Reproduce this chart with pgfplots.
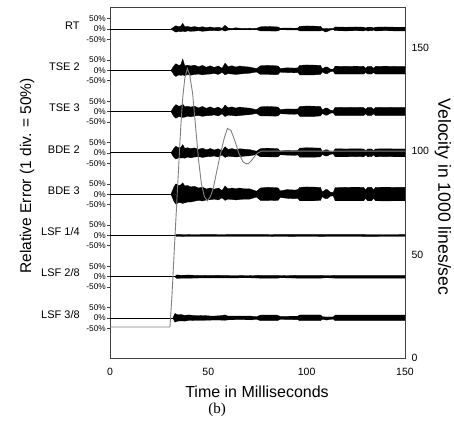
\documentclass[border=0pt]{standalone}
\usepackage{pgfplots}
\pgfplotsset{compat=1.18}
\usepackage{pgfplotstable}
\usepgfplotslibrary{fillbetween}
\usepackage{fontspec}
\setmainfont{Liberation Sans}
\newfontfamily\seriffont{Liberation Serif}

% envelopes of the error traces (relative error in %, t in ms)
\pgfplotstableread{
t u l
31 0 0
32.5 10 -10
33.5 16 -15
35 11 -11
36 14 -13
37 28 -10
38 11 -13
39.5 13 -9
41 9 -11
43 12 -10
45 8 -8
47 11 -11
49 7 -9
51 10 -8
53 6 -7
55 9 -9
57 4 -4
58.5 18 -10
60 5 -5
62 3 -3
64 6 -2
66 4 -3
68 3 -3
71 4 -4
74.5 3 -3
76.5 11 -9
80 12 -9
84 11 -10
85.5 10 -9
86.5 4 -3
90 5 -4
94 4 -4
95.5 5 -4
96.5 13 -9
100 15 -9
104 14 -9
107 13 -9
108 3 -6
109.5 2 -14
110.5 2 -12
112 3 -5
113.5 3 -3
114.5 10 -8
120 9 -9
125 10 -8
129 9 -9
130 5 -5
131 9 -9
133 9 -8
134 5 -5
135 9 -9
140 10 -8
145 9 -9
150 9 -9
}\RT
\pgfplotstableread{
t u l
31 0 0
32.5 22 -22
33.5 32 -30
35 24 -22
36 27 -25
37 55 -22
38 22 -26
39.5 25 -20
41 21 -24
43 25 -20
45 17 -18
47 24 -22
49 15 -19
51 22 -18
53 14 -15
55 21 -20
57 10 -10
58.5 35 -22
60 18 -16
62 22 -18
64 16 -20
66 21 -18
68 18 -16
71 16 -14
74.5 8 -8
76.5 22 -20
80 24 -20
84 22 -21
85.5 21 -20
86.5 9 -9
90 12 -11
94 11 -12
95.5 12 -10
96.5 24 -22
100 26 -22
104 25 -22
107 24 -20
108 7 -8
109.5 16 -16
110.5 16 -16
112 6 -7
113.5 5 -5
114.5 20 -18
120 19 -18
125 20 -18
129 19 -18
130 10 -10
131 19 -18
133 19 -18
134 10 -10
135 19 -18
140 20 -18
145 19 -18
150 19 -18
}\TSEtwo
\pgfplotstableread{
t u l
31 0 0
32.5 24 -24
33.5 34 -32
35 26 -24
36 28 -26
37 36 -28
38 24 -27
39.5 26 -22
41 22 -25
43 26 -21
45 18 -19
47 25 -23
49 16 -20
51 23 -19
53 15 -16
55 22 -21
57 11 -11
58.5 32 -24
60 19 -17
62 23 -19
64 17 -21
66 22 -19
68 19 -17
71 17 -15
74.5 9 -9
76.5 23 -21
80 25 -21
84 23 -22
85.5 22 -21
86.5 10 -10
90 13 -12
94 12 -13
95.5 13 -11
96.5 25 -23
100 27 -23
104 26 -23
107 25 -21
108 8 -9
109.5 17 -17
110.5 17 -17
112 7 -8
113.5 6 -6
114.5 21 -19
120 20 -19
125 21 -19
129 20 -19
130 11 -11
131 20 -19
133 20 -19
134 11 -11
135 20 -19
140 21 -19
145 20 -19
150 20 -19
}\TSEthree
\pgfplotstableread{
t u l
31 0 0
32.5 22 -22
33.5 32 -30
35 24 -23
36 27 -25
37 40 -24
38 22 -26
39.5 25 -20
41 21 -24
43 24 -20
45 17 -18
47 23 -22
49 15 -19
51 21 -18
53 14 -15
55 20 -20
57 10 -10
58.5 30 -22
60 17 -16
62 21 -18
64 16 -20
66 20 -18
68 18 -16
71 16 -14
74.5 8 -8
76.5 21 -19
80 23 -19
84 21 -20
85.5 20 -19
86.5 9 -9
90 12 -11
94 11 -12
95.5 12 -10
96.5 23 -21
100 25 -21
104 24 -21
107 23 -19
108 7 -8
109.5 15 -15
110.5 15 -15
112 6 -7
113.5 5 -5
114.5 20 -19
120 19 -19
125 20 -18
129 19 -19
130 10 -10
131 19 -19
133 19 -18
134 10 -10
135 19 -19
140 20 -18
145 19 -19
150 19 -19
}\BDEtwo
\pgfplotstableread{
t u l
31 0 0
32.5 35 -35
33.5 50 -48
35 42 -40
36 45 -42
37 55 -45
38 40 -42
39.5 42 -38
41 35 -38
43 38 -34
45 30 -30
47 34 -33
49 25 -28
51 30 -27
53 24 -24
55 30 -28
57 18 -18
58.5 40 -30
60 26 -24
62 30 -26
64 26 -28
66 30 -26
68 26 -24
71 26 -24
74.5 14 -14
76.5 30 -30
80 33 -30
84 32 -31
85.5 30 -30
86.5 16 -16
90 22 -20
94 20 -22
95.5 22 -20
96.5 33 -32
100 35 -32
104 34 -32
107 33 -30
108 10 -12
109.5 22 -22
110.5 22 -22
112 10 -10
113.5 8 -8
114.5 32 -32
120 33 -32
125 34 -32
129 33 -32
130 20 -20
131 33 -32
133 33 -32
134 20 -20
135 33 -32
140 34 -33
145 33 -32
150 33 -32
}\BDEthree
\pgfplotstableread{
t u l
33 0 0
34 5 -5
40 4 -4
50 5 -4
60 4 -4
80 4 -4
85 5 -5
100 5 -4
115 5 -5
150 4 -4
}\LSFa
\pgfplotstableread{
t u l
33 0 0
34 9 -9
36 7 -7
40 8 -7
46 6 -6
50 7 -6
60 6 -6
70 5 -5
77 7 -7
85 7 -7
87 5 -5
96 7 -7
107 7 -7
110 5 -5
115 7 -7
150 7 -7
}\LSFb
\pgfplotstableread{
t u l
32 0 0
33 22 -20
34.5 15 -15
36 17 -14
38 13 -15
40 15 -12
44 11 -11
48 12 -11
52 9 -10
56 11 -10
58.5 15 -11
60 9 -9
66 9 -8
72 9 -9
74.5 6 -6
76.5 14 -13
85 14 -13
86.5 8 -7
95.5 9 -8
96.5 15 -13
107 15 -13
108 6 -6
110 5 -10
113.5 5 -5
114.5 14 -13
150 14 -13
}\LSFc
% velocity in 1000 lines/sec
\pgfplotstableread{
t v
0 15
30.5 15
31.5 30
33 58
34.5 85
36 112
37 126
38 135
39.3 140
40.5 137
42 128
43.5 112
45 96
46.5 84
48 78
49.5 76
51 78
52.5 82
54 89
56 98
58 106
59.7 111
61.5 110
63.5 105
65.5 99
67.5 95
69 94
70.4 94
72 95.5
73.5 97.5
75 99
77 100
150 100
}\VEL

\newcommand{\trace}[4]{% table, offset, id, zero line width
  \addplot[draw=black,line width=0.3pt,name path=#3u] table[x=t,y expr=\thisrow{u}+#2]{#1};
  \addplot[draw=black,line width=0.3pt,name path=#3l] table[x=t,y expr=\thisrow{l}+#2]{#1};
  \addplot[black] fill between[of=#3u and #3l];
  \addplot[black,line width=#4] coordinates {(0,#2) (150,#2)};
}
\newcommand{\nm}[2]{\node[anchor=east,font=\fontsize{11}{12}\selectfont,inner sep=0pt] at (axis cs:-15.3,#2) {#1};}

\begin{document}
\begin{tikzpicture}
\begin{axis}[
  scale only axis, width=295pt, height=351pt,
  xmin=0, xmax=150, ymin=-193.8, ymax=1506.8,
  clip=false,
  axis line style={black!75, line width=0.8pt},
  xtick={0,50,100,150}, xtick style={draw=none},
  xticklabel style={font=\fontsize{10.5}{11}\selectfont, yshift=-4pt},
  ytick={-50,0,50,150,200,250,350,400,450,550,600,650,750,800,850,950,1000,1050,1150,1200,1250,1350,1400,1450},
  yticklabels={-50\%,0\%,50\%,-50\%,0\%,50\%,-50\%,0\%,50\%,-50\%,0\%,50\%,-50\%,0\%,50\%,-50\%,0\%,50\%,-50\%,0\%,50\%,-50\%,0\%,50\%},
  ytick pos=left, tick align=outside, major tick length=3pt,
  ytick style={black!75, line width=0.6pt},
  yticklabel style={font=\fontsize{8.3}{8.5}\selectfont, inner sep=1pt},
  /pgf/number format/assume math mode=true,
]
\trace{\RT}{1400}{rt}{1pt}
\trace{\TSEtwo}{1200}{tsb}{1pt}
\trace{\TSEthree}{1000}{tsc}{1pt}
\trace{\BDEtwo}{800}{bdb}{1pt}
\trace{\BDEthree}{600}{bdc}{1pt}
\trace{\LSFa}{400}{lsa}{0.7pt}
\trace{\LSFb}{200}{lsb}{0.7pt}
\trace{\LSFc}{0}{lsc}{0.7pt}
\nm{RT}{1418}
\nm{TSE 2}{1218}
\nm{TSE 3}{1018}
\nm{BDE 2}{818}
\nm{BDE 3}{618}
\nm{LSF 1/4}{418}
\nm{LSF 2/8}{218}
\nm{LSF 3/8}{18}
\end{axis}
\begin{axis}[
  scale only axis, width=295pt, height=351pt,
  xmin=0, xmax=150, ymin=0, ymax=169.7,
  axis x line=none, axis y line*=right,
  axis line style={draw=none},
  ytick={0,50,100,150}, ytick style={draw=none},
  yticklabel style={font=\fontsize{10.5}{11}\selectfont, xshift=3pt},
  /pgf/number format/assume math mode=true,
]
\addplot[black!50, line width=0.9pt] table[x=t,y=v]{\VEL};
\end{axis}
\node[rotate=90,font=\fontsize{15.5}{17}\selectfont] at (-83pt,182pt) {Relative Error (1 div. = 50\%)};
\node[rotate=-90,font=\fontsize{17.6}{19}\selectfont] at (333pt,161pt) {Velocity in 1000 lines/sec};
\node[font=\fontsize{16}{18}\selectfont] at (147pt,-34pt) {Time in Milliseconds};
\node[font=\seriffont\fontsize{15}{17}\selectfont] at (107pt,-52pt) {(b)};
\pgfresetboundingbox
\useasboundingbox (-110pt,-71pt) rectangle (344pt,358pt);
\end{tikzpicture}
\end{document}
